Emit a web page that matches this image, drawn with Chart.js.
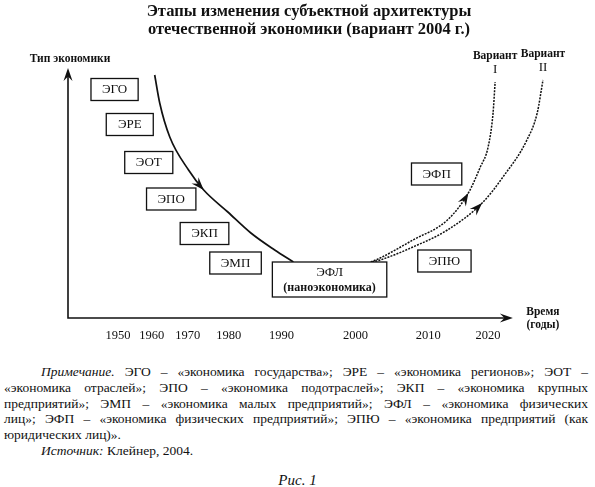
<!DOCTYPE html>
<html lang="ru">
<head>
<meta charset="utf-8">
<title>Этапы изменения субъектной архитектуры</title>
<script src="https://cdn.jsdelivr.net/npm/chart.js@4.4.1/dist/chart.umd.min.js"></script>
<style>
  body { margin: 0; background: #fff; width: 595px; height: 487px; overflow: hidden;
         font-family: "Liberation Serif", "DejaVu Serif", serif; color: #111; }
  .note { margin-top: 16px; padding: 0 7px 0 4px; font-size: 13.5px; line-height: 15.8px; }
  .note div { text-align: justify; text-align-last: justify; }
  .note div.last { text-align-last: left; }
  .note .ind { padding-left: 37px; }
  .fig { margin-top: 13px; text-align: center; font-style: italic; font-size: 15px; }
</style>
</head>
<body>
<canvas id="chart" width="595" height="348"></canvas>
<div class="note">
  <div class="ind"><i>Примечание.</i> ЭГО – «экономика государства»; ЭРЕ – «экономика регионов»; ЭОТ –</div>
  <div>«экономика отраслей»; ЭПО – «экономика подотраслей»; ЭКП – «экономика крупных</div>
  <div>предприятий»; ЭМП – «экономика малых предприятий»; ЭФЛ – «экономика физических</div>
  <div>лиц»; ЭФП – «экономика физических предприятий»; ЭПЮ – «экономика предприятий (как</div>
  <div class="last">юридических лиц)».</div>
  <div class="last ind"><i>Источник:</i> Клейнер, 2004.</div>
</div>
<div class="fig">Рис. 1</div>
<script>
// years shown under the time axis
const tickYears = [1950, 1960, 1970, 1980, 1990, 2000, 2010, 2020];

// stages (boxes): where each one sits in (year, economy type) space
const stageNames = ["ЭГО", "ЭРЕ", "ЭОТ", "ЭПО", "ЭКП", "ЭМП", "ЭФЛ", "ЭФП", "ЭПЮ"];
const stageNotes = ["", "", "", "", "", "", "(наноэкономика)", "", ""];
const stageYears = [1949, 1953.5, 1959.1, 1965.4, 1974.1, 1981.3, 1996.5, 2011.4, 2012.7];
const stageLevels = [91.4, 77.4, 62.2, 47.6, 33.8, 22, 15.4, 57.6, 22.8];

// past path, down to nano-economy
const pastYears = [1960.8, 1962.2, 1965, 1970.2, 1973.9, 1979.8, 1984.2, 1988.7, 1991.6];
const pastLevels = [97.2, 86, 72.4, 59.2, 51.2, 42.4, 34, 27.2, 22.4];

// variant I
const var1Years = [2002.1, 2003.4, 2007.9, 2013.2, 2016.7, 2018.7, 2020, 2021.2, 2021.7];
const var1Levels = [22.4, 24, 31.2, 39.2, 50, 60.4, 68.4, 82, 94.4];

// variant II
const var2Years = [2002.3, 2003.4, 2007.9, 2013.2, 2019, 2023.6, 2029.4, 2031.9, 2033.3];
const var2Levels = [22.4, 23.2, 28.4, 35.2, 46, 56.4, 71.2, 82, 95.2];

const SERIF = '"Liberation Serif", "DejaVu Serif", serif';
const INK = "#111";

// the time axis of the scheme is not uniform: decades are stretched round 2000
const AXIS_STRETCH = [
    [1935, 0], [1950, 0.1035], [1960, 0.1739], [1970, 0.2484], [1980, 0.3333],
    [1990, 0.4431], [2000, 0.5963], [2010, 0.7474], [2020, 0.8716], [2035, 1]
];

class StretchedScale extends Chart.LinearScale {
    getPixelForValue(value) {
        if (value === null || value === undefined) return NaN;
        let s = AXIS_STRETCH;
        let i = 1;
        while (i < s.length - 1 && value > s[i][0]) i++;
        let a = s[i - 1], b = s[i];
        let f = a[1] + (value - a[0]) / (b[0] - a[0]) * (b[1] - a[1]);
        return this.getPixelForDecimal(f);
    }
    getValueForPixel(pixel) {
        let f = this.getDecimalForPixel(pixel);
        let s = AXIS_STRETCH;
        let i = 1;
        while (i < s.length - 1 && f > s[i][1]) i++;
        let a = s[i - 1], b = s[i];
        return a[0] + (f - a[1]) / (b[1] - a[1]) * (b[0] - a[0]);
    }
}
StretchedScale.id = "stretched";
StretchedScale.defaults = Chart.LinearScale.defaults;
Chart.register(StretchedScale);

function points(xs, ys) {
    return xs.map((x, i) => ({x: x, y: ys[i]}));
}

function arrowHead(ctx, x, y, ang, len, half) {
    ctx.save();
    ctx.translate(x, y);
    ctx.rotate(ang);
    ctx.beginPath();
    ctx.moveTo(0, 0);
    ctx.lineTo(-len, -half);
    ctx.lineTo(-len * 0.65, 0);
    ctx.lineTo(-len, half);
    ctx.closePath();
    ctx.fill();
    ctx.restore();
}

// axes with arrows and their captions
const axesPlugin = {
    id: "axes",
    afterDatasetsDraw(chart) {
        const ctx = chart.ctx;
        const {left, top, bottom} = chart.chartArea;
        const xEnd = chart.scales.x.getPixelForValue(2026);
        ctx.save();
        ctx.strokeStyle = INK;
        ctx.fillStyle = INK;
        ctx.lineWidth = 1.6;
        ctx.beginPath();
        ctx.moveTo(left, top + 4);
        ctx.lineTo(left, bottom);
        ctx.lineTo(xEnd - 4, bottom);
        ctx.stroke();
        arrowHead(ctx, left, top, -Math.PI / 2, 13, 4.5);
        arrowHead(ctx, xEnd, bottom, 0, 13, 4.5);

        ctx.font = "bold 11.5px " + SERIF;
        ctx.textAlign = "center";
        ctx.textBaseline = "middle";
        ctx.fillText("Тип экономики", left + 2, top - 9);
        ctx.fillText("Время", xEnd + 30, bottom - 6);
        ctx.fillText("(годы)", xEnd + 30, bottom + 7);
        ctx.restore();
    }
};

// arrowheads on the curves and the "Вариант" captions
const curvesPlugin = {
    id: "curves",
    afterDatasetsDraw(chart) {
        const ctx = chart.ctx;
        ctx.save();
        ctx.fillStyle = INK;
        chart.data.datasets.forEach((ds, di) => {
            const pts = chart.getDatasetMeta(di).data;
            if (ds.arrowAt !== undefined) {
                const p = pts[ds.arrowAt];
                let dx = p.x - p.cp1x, dy = p.y - p.cp1y;
                if (!isFinite(dx) || Math.abs(dx) + Math.abs(dy) < 0.1) {
                    dx = p.x - pts[ds.arrowAt - 1].x;
                    dy = p.y - pts[ds.arrowAt - 1].y;
                }
                arrowHead(ctx, p.x, p.y, Math.atan2(dy, dx), 13, 4.6);
            }
            if (ds.topLabel) {
                const last = pts[pts.length - 1];
                ctx.font = "bold 11.5px " + SERIF;
                ctx.textAlign = "center";
                ctx.textBaseline = "middle";
                ctx.fillText("Вариант", last.x, last.y - 26);
                ctx.font = "13px " + SERIF;
                ctx.fillText(ds.topLabel, last.x, last.y - 12);
            }
        });
        ctx.restore();
    }
};

// framed stage labels
const boxesPlugin = {
    id: "boxes",
    afterDatasetsDraw(chart) {
        const ctx = chart.ctx;
        const xs = chart.scales.x, ys = chart.scales.y;
        ctx.save();
        ctx.textAlign = "center";
        ctx.textBaseline = "middle";
        for (let i = 0; i < stageNames.length; i++) {
            const cx = xs.getPixelForValue(stageYears[i]);
            const cy = ys.getPixelForValue(stageLevels[i]);
            ctx.font = "13px " + SERIF;
            let w = ctx.measureText(stageNames[i]).width;
            let h = 22;
            if (stageNotes[i]) {
                ctx.font = "bold 12px " + SERIF;
                w = Math.max(w, ctx.measureText(stageNotes[i]).width);
                h = 35;
            }
            w = Math.max(w + 22, 47);
            ctx.fillStyle = "#fff";
            ctx.fillRect(cx - w / 2, cy - h / 2, w, h);
            ctx.strokeStyle = INK;
            ctx.lineWidth = 1.3;
            ctx.strokeRect(cx - w / 2, cy - h / 2, w, h);
            ctx.fillStyle = INK;
            ctx.font = "13px " + SERIF;
            if (stageNotes[i]) {
                ctx.fillText(stageNames[i], cx, cy - 7);
                ctx.font = "bold 12px " + SERIF;
                ctx.fillText(stageNotes[i], cx, cy + 8);
            } else {
                ctx.fillText(stageNames[i], cx, cy + 0.5);
            }
        }
        ctx.restore();
    }
};

new Chart("chart", {
    type: "line",
    data: {
        datasets: [{
            data: points(pastYears, pastLevels),
            borderColor: INK,
            borderWidth: 1.7,
            arrowAt: 4
        }, {
            data: points(var1Years, var1Levels),
            borderColor: INK,
            borderWidth: 1.5,
            borderDash: [2, 1.2],
            arrowAt: 4,
            topLabel: "I"
        }, {
            data: points(var2Years, var2Levels),
            borderColor: INK,
            borderWidth: 1.5,
            borderDash: [2, 1.2],
            arrowAt: 4,
            topLabel: "II"
        }]
    },
    options: {
        responsive: false,
        animation: false,
        events: [],
        cubicInterpolationMode: "monotone",
        elements: {point: {radius: 0}, line: {fill: false}},
        layout: {padding: {left: 68, right: 45, top: 0, bottom: 0}},
        plugins: {
            legend: {display: false},
            tooltip: {enabled: false},
            title: {
                display: true,
                text: ["Этапы изменения субъектной архитектуры", "отечественной экономики (вариант 2004 г.)"],
                color: INK,
                font: {family: SERIF, size: 16.5, weight: "bold", lineHeight: 1.1},
                padding: {top: 3, bottom: 28.7}
            }
        },
        scales: {
            x: {
                type: "stretched",
                min: 1935,
                max: 2035,
                grid: {display: false, drawTicks: false},
                border: {display: false},
                afterBuildTicks: (scale) => {
                    scale.ticks = tickYears.map(v => ({value: v}));
                },
                afterFit: (scale) => {
                    scale.height = 30;
                },
                ticks: {
                    padding: 10,
                    autoSkip: false,
                    maxRotation: 0,
                    color: INK,
                    font: {family: SERIF, size: 12.5},
                    callback: (v) => String(v)
                }
            },
            y: {display: false, min: 0, max: 100}
        }
    },
    plugins: [axesPlugin, curvesPlugin, boxesPlugin]
});
</script>
</body>
</html>
